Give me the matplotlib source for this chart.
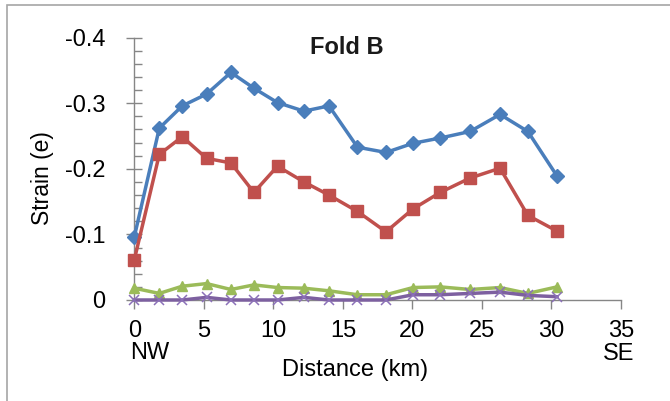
import matplotlib
matplotlib.use('Agg')
import matplotlib.pyplot as plt
from matplotlib.patches import Rectangle

plt.rcParams['font.family'] = ['Liberation Sans', 'DejaVu Sans']
plt.rcParams['axes.unicode_minus'] = False

# Data (distance along section, strain)
distance = [0, 1.8, 3.45, 5.2, 6.95, 8.6, 10.3, 12.2, 14.0, 16.05, 18.1,
            20.05, 22.0, 24.15, 26.3, 28.3, 30.4]
series_1 = [-0.096, -0.262, -0.296, -0.314, -0.347, -0.323, -0.301, -0.288, -0.296,
            -0.233, -0.225, -0.239, -0.247, -0.257, -0.283, -0.257, -0.189]
series_2 = [-0.061, -0.222, -0.249, -0.216, -0.209, -0.164, -0.204, -0.180, -0.160,
            -0.135, -0.104, -0.139, -0.164, -0.186, -0.201, -0.129, -0.105]
series_3 = [-0.018, -0.010, -0.021, -0.025, -0.016, -0.023, -0.019, -0.018, -0.014,
            -0.008, -0.008, -0.019, -0.020, -0.016, -0.019, -0.010, -0.020]
series_4 = [0.0, 0.0, 0.0, -0.004, 0.0, 0.0, 0.0, -0.004, 0.0,
            0.0, 0.0, -0.008, -0.008, -0.010, -0.012, -0.007, -0.005]

yticks = [0, -0.1, -0.2, -0.3, -0.4]
ytick_labels = ['0', '-0.1', '-0.2', '-0.3', '-0.4']
xticks = [0, 5, 10, 15, 20, 25, 30, 35]

fig = plt.figure(figsize=(6.7, 4.01), dpi=100)
ax = fig.add_axes([0.2004, 0.2519, 0.7265, 0.6541])

# outer chart border (only top and left visible)
fig.patches.append(Rectangle((7 / 670, -0.1), 1.2, 1.1 - 5 / 401,
                             transform=fig.transFigure, fill=False,
                             edgecolor='#a6a6a6', linewidth=1.2))

ax.plot(distance, series_1, color='#4A7EBB', lw=2.5, marker='D', ms=7,
        clip_on=False, zorder=3)
ax.plot(distance, series_2, color='#C0504D', lw=2.5, marker='s', ms=8.5,
        clip_on=False, zorder=3)
ax.plot(distance, series_3, color='#9BBB59', lw=2.5, marker='^', ms=7.5,
        clip_on=False, zorder=3)
ax.plot(distance, series_4, color='#7D60A0', lw=2.5, marker='x', ms=7,
        mew=1.1, mec='#8B70B8', clip_on=False, zorder=4)

ax.set_xlim(0, 35)
ax.set_ylim(0, -0.4)
ax.set_xticks(xticks)
ax.set_yticks(yticks)
ax.set_yticklabels(ytick_labels)
ax.set_yticks([-0.02 * i for i in range(21) if i % 5 != 0], minor=True)

for s in ['top', 'right']:
    ax.spines[s].set_visible(False)
for s in ['left', 'bottom']:
    ax.spines[s].set_color('#868686')
    ax.spines[s].set_linewidth(1.0)

ax.tick_params(axis='y', which='major', direction='inout', length=11, width=1,
               color='#868686', labelsize=17, pad=15.5)
ax.tick_params(axis='y', which='minor', direction='in', length=5.5, width=1,
               color='#868686')
ax.tick_params(axis='x', which='major', direction='out', length=6.5, width=1,
               color='#868686', labelsize=17, pad=8)

fig.text(346.5 / 670, 1 - 47 / 401, 'Fold B', fontsize=17, fontweight='bold',
         ha='center', va='center', color='#1a1a1a')
fig.text(43 / 670, 1 - 178 / 401, 'Strain (e)', fontsize=16.5, rotation=90,
         ha='center', va='center')
fig.text(355.5 / 670, 1 - 370 / 401, 'Distance (km)', fontsize=17,
         ha='center', va='center')
fig.text(150 / 670, 1 - 353 / 401, 'NW', fontsize=17, ha='center', va='center')
fig.text(619 / 670, 1 - 354 / 401, 'SE', fontsize=17, ha='center', va='center')

fig.savefig('out.png', dpi=100)
